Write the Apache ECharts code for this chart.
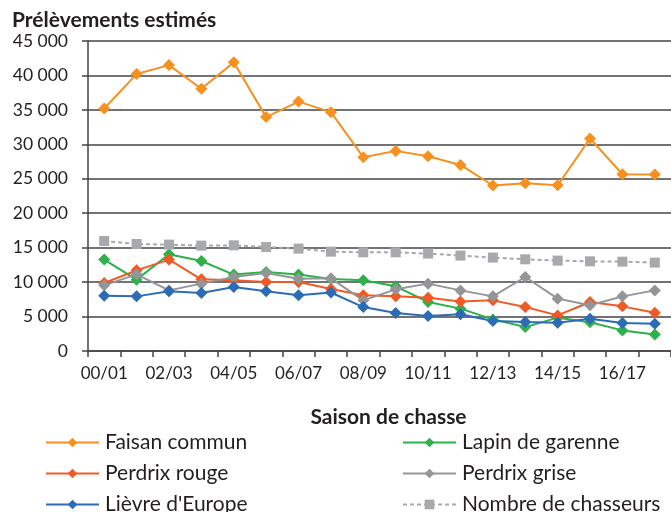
<!DOCTYPE html>
<html><head><meta charset="utf-8">
<script src="https://cdn.jsdelivr.net/npm/echarts@6/dist/echarts.min.js"></script>
<style>html,body{margin:0;padding:0;background:#fff}#c{width:671px;height:512px}</style>
</head><body><div id="c"></div>
<script>
const categories = ['00/01','01/02','02/03','03/04','04/05','05/06','06/07','07/08','08/09','09/10','10/11','11/12','12/13','13/14','14/15','15/16','16/17','17/18'];
const faisan = [35200,40200,41500,38060,41900,33950,36200,34670,28130,29050,28280,27010,24020,24350,24060,30850,25660,25620];
const lapin = [13270,10360,14040,13060,11090,11470,11090,10450,10260,9390,7110,6150,4590,3470,4840,4160,2990,2410];
const perdrixRouge = [9870,11710,13270,10400,10260,10010,10010,9000,8080,7930,7740,7200,7350,6380,5170,7110,6480,5560];
const perdrixGrise = [9530,11130,8800,9780,10740,11320,10500,10550,7350,8950,9780,8800,7930,10740,7600,6630,7930,8800];
const lievre = [8030,7930,8660,8420,9290,8660,8080,8490,6380,5510,5080,5320,4350,4200,4110,4690,4060,3970];
const chasseurs = [15970,15530,15440,15300,15340,15100,14860,14420,14330,14330,14140,13850,13560,13310,13120,13020,12970,12830];
const yTicks = {min:0, max:45000, interval:5000};

const FONT = 'Lato';
const chart = echarts.init(document.getElementById('c'), null, {renderer:'canvas'});
function mk(name, data, color, symbol, size, dashed){
  return {name, type:'line', data, symbol, symbolSize:size, showSymbol:true,
    lineStyle:{color, width:2, type: dashed ? [4,3] : 'solid'},
    itemStyle:{color}, emphasis:{disabled:true}, animation:false};
}
const series = [
  mk('Faisan commun', faisan, '#F7901E', 'diamond', 12),
  mk('Lapin de garenne', lapin, '#2DB24A', 'diamond', 12),
  mk('Perdrix rouge', perdrixRouge, '#F15A24', 'diamond', 12),
  mk('Perdrix grise', perdrixGrise, '#939598', 'diamond', 12),
  mk("Lièvre d'Europe", lievre, '#2B6CB5', 'diamond', 12),
  mk('Nombre de chasseurs', chasseurs, '#A7A9AC', 'rect', 10, true)
];
const legendCommon = {orient:'vertical', padding:0, itemWidth:53, itemHeight:12, itemGap:10, height:100,
  textStyle:{fontFamily:FONT, fontSize:21, lineHeight:20, color:'#231F20', padding:[0,0,0,1]}};
chart.setOption({
  animation:false,
  title:{text:'Prélèvements estimés', left:7, top:5, textStyle:{fontFamily:FONT, fontSize:21, fontWeight:'bold', color:'#231F20'}},
  grid:{left:88, top:41, right:-3, bottom:161},
  xAxis:{type:'category', data:categories, boundaryGap:true,
    name:'Saison de chasse', nameLocation:'middle', nameGap:56,
    nameTextStyle:{fontFamily:FONT, fontSize:21, fontWeight:'bold', color:'#231F20', padding:[0,0,0,18]},
    axisLine:{lineStyle:{color:'#444', width:1.5}},
    axisTick:{show:true, interval:0, length:6, lineStyle:{color:'#444', width:1.5}},
    axisLabel:{interval:1, fontFamily:FONT, fontSize:17, color:'#231F20', margin:14}},
  yAxis:{type:'value', min:yTicks.min, max:yTicks.max, interval:yTicks.interval,
    axisLine:{show:true, lineStyle:{color:'#444', width:1.5}},
    axisTick:{show:true, length:6, lineStyle:{color:'#444', width:1.5}},
    splitLine:{lineStyle:{color:'#444', width:1.5}},
    axisLabel:{fontFamily:FONT, fontSize:17.5, color:'#231F20', margin:20,
      formatter:v => String(v).replace(/\B(?=(\d{3})+(?!\d))/g,' ')}},
  legend:[
    Object.assign({left:45, top:432, data:['Faisan commun','Perdrix rouge',"Lièvre d'Europe"]}, legendCommon),
    Object.assign({left:402, top:432, data:['Lapin de garenne','Perdrix grise','Nombre de chasseurs']}, legendCommon)
  ],
  series
});
</script></body></html>
